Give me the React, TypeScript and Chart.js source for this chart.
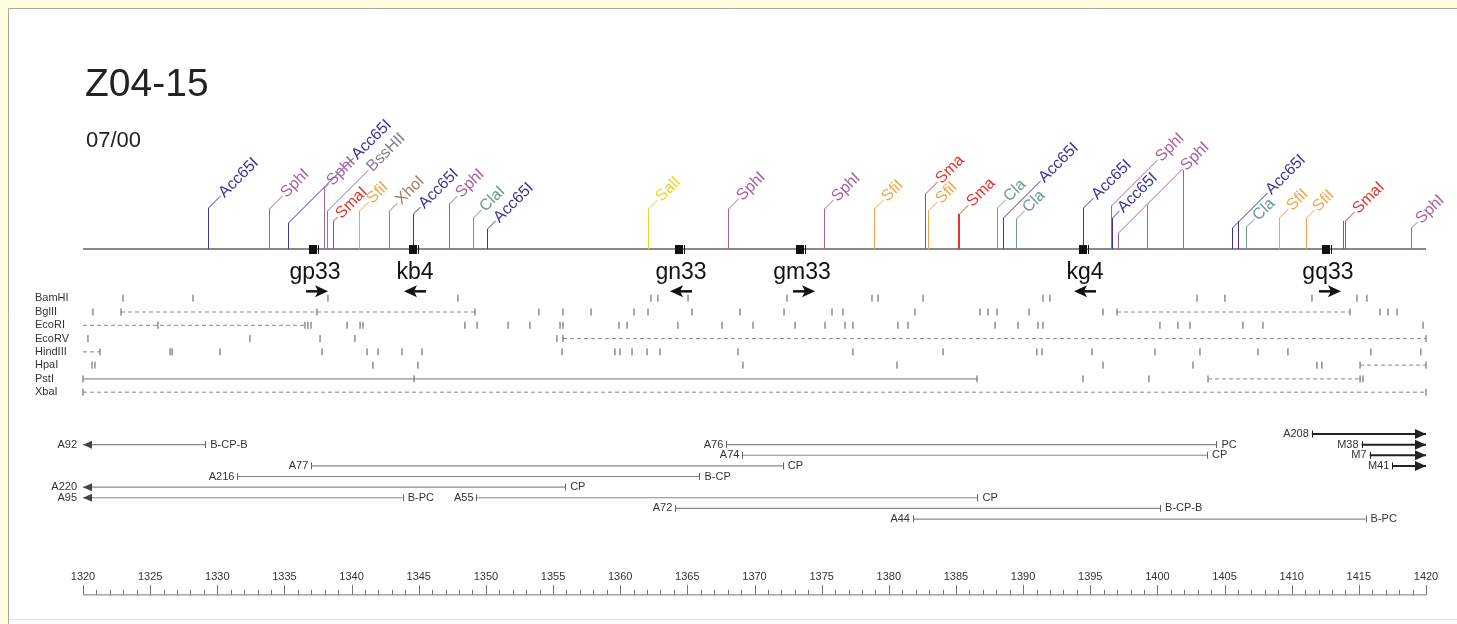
import React, { useEffect, useRef } from 'react';
import { Chart, registerables } from 'chart.js';

Chart.register(...registerables);

const FONT = '"Liberation Sans", Arial, Helvetica, sans-serif';
const W = 1457;
const H = 624;

// ---------- data ----------
const X_MIN = 1320;
const X_MAX = 1420;
const RULER_LABELS = ['1320', '1325', '1330', '1335', '1340', '1345', '1350', '1355', '1360', '1365', '1370', '1375', '1380', '1385', '1390', '1395', '1400', '1405', '1410', '1415', '1420'];

const TITLE = 'Z04-15';
const SUBTITLE = '07/00';

// restriction sites above the backbone
const SITE_POS = [1329.29, 1333.85, 1335.24, 1337.94, 1338.15, 1338.59, 1340.55, 1342.78, 1344.57, 1347.25, 1349.04, 1350.08, 1362.07, 1368.03, 1375.17, 1378.9, 1382.7, 1382.92, 1385.13, 1385.25, 1388.03, 1388.48, 1389.47, 1394.44, 1396.55, 1396.6, 1397.07, 1399.23, 1401.9, 1405.53, 1406.0, 1406.6, 1409.06, 1411.04, 1413.8, 1413.96, 1418.88];
const SITE_ENZ = ['Acc65I', 'SphI', 'Acc65I', 'SphI', 'BssHII', 'SmaI', 'SfiI', 'XhoI', 'Acc65I', 'SphI', 'ClaI', 'Acc65I', 'SalI', 'SphI', 'SphI', 'SfiI', 'SmaI', 'SfiI', 'SmaI', 'SmaI', 'ClaI', 'Acc65I', 'ClaI', 'Acc65I', 'SphI', 'Acc65I', 'SphI', 'SphI', 'SphI', 'Acc65I', 'Acc65I', 'ClaI', 'SfiI', 'SfiI', 'SmaI', 'SmaI', 'SphI'];
const SITE_LABEL = ['Acc65I', 'SphI', 'Acc65I', 'SphI', 'BssHII', 'SmaI', 'SfiI', 'XhoI', 'Acc65I', 'SphI', 'ClaI', 'Acc65I', 'SalI', 'SphI', 'SphI', 'SfiI', 'Sma', 'SfiI', '', 'Sma', 'Cla', 'Acc65I', 'Cla', 'Acc65I', 'SphI', 'Acc65I', 'SphI', '', '', 'Acc65I', '', 'Cla', 'SfiI', 'SfiI', '', 'SmaI', 'SphI'];

// genes / markers on the backbone
const GENE_NAMES = ['gp33', 'kb4', 'gn33', 'gm33', 'kg4', 'gq33'];
const GENE_POS = [1337.13, 1344.57, 1364.38, 1373.39, 1394.46, 1412.55];
const GENE_DIR = [1, -1, -1, 1, -1, 1];

// restriction map rows
const MAP_ENZYMES = ['BamHI', 'BglII', 'EcoRI', 'EcoRV', 'HindIII', 'HpaI', 'PstI', 'XbaI'];
const BAMHI_SITES = [1322.98, 1328.19, 1338.24, 1347.92, 1362.29, 1362.81, 1365.05, 1372.42, 1378.75, 1379.2, 1382.55, 1391.48, 1392.0, 1402.95, 1405.03, 1411.51, 1414.86, 1415.6];
const BGLII_SITES = [1320.74, 1322.83, 1337.42, 1349.19, 1353.95, 1355.74, 1357.83, 1361.03, 1362.07, 1365.35, 1368.92, 1372.2, 1375.77, 1376.59, 1381.95, 1386.79, 1387.39, 1388.06, 1390.44, 1395.95, 1396.99, 1414.34, 1416.57, 1417.17, 1417.84];
const ECORI_SITES = [1325.58, 1336.53, 1336.75, 1336.98, 1339.66, 1340.63, 1340.85, 1348.44, 1349.34, 1351.65, 1353.28, 1355.52, 1355.74, 1359.91, 1360.51, 1364.3, 1367.58, 1369.89, 1373.02, 1375.25, 1376.74, 1377.33, 1380.68, 1381.43, 1387.91, 1389.62, 1391.11, 1391.48, 1400.19, 1401.53, 1402.43, 1406.37, 1407.86, 1419.78];
const ECORV_SITES = [1320.37, 1332.43, 1337.65, 1340.25, 1355.29, 1355.74, 1420];
const HINDIII_SITES = [1321.27, 1326.48, 1326.63, 1330.2, 1337.8, 1341.15, 1341.97, 1343.75, 1345.24, 1355.67, 1359.61, 1359.99, 1360.88, 1362.0, 1362.96, 1368.77, 1377.33, 1384.04, 1391.03, 1391.41, 1395.13, 1399.82, 1403.17, 1407.49, 1409.72, 1415.9, 1419.62];
const HPAI_SITES = [1320.67, 1320.89, 1341.59, 1344.94, 1369.14, 1380.61, 1395.95, 1402.65, 1411.88, 1412.25, 1415.09, 1420];
const PSTI_SITES = [1320, 1344.65, 1386.57, 1394.46, 1399.37, 1403.77, 1415.09, 1415.31];
const XBAI_SITES = [1320, 1420];
const MAP_SITES = [BAMHI_SITES, BGLII_SITES, ECORI_SITES, ECORV_SITES, HINDIII_SITES, HPAI_SITES, PSTI_SITES, XBAI_SITES];

const BGLII_DASHED = [[1322.83, 1349.19], [1396.99, 1414.34]];
const ECORI_DASHED = [[1320, 1336.68]];
const ECORV_DASHED = [[1355.74, 1420]];
const HINDIII_DASHED = [[1320, 1321.27]];
const HPAI_DASHED = [[1415.09, 1420]];
const PSTI_DASHED = [[1403.77, 1415.09]];
const XBAI_DASHED = [[1320, 1420]];
const MAP_DASHED = [[], BGLII_DASHED, ECORI_DASHED, ECORV_DASHED, HINDIII_DASHED, HPAI_DASHED, PSTI_DASHED, XBAI_DASHED];
const PSTI_SOLID = [[1320, 1386.57]];
const MAP_SOLID = [[], [], [], [], [], [], PSTI_SOLID, []];

// clones
const CLONE_NAMES = ['A208', 'A92', 'A76', 'M38', 'A74', 'M7', 'A77', 'M41', 'A216', 'A220', 'A95', 'A55', 'A72', 'A44'];
const CLONE_START = [1411.5, 1320, 1367.9, 1415.2, 1369.1, 1415.8, 1337.0, 1417.5, 1331.5, 1320, 1320, 1349.3, 1364.1, 1381.8];
const CLONE_END = [1420, 1329.1, 1404.4, 1420, 1403.7, 1420, 1372.1, 1420, 1365.9, 1355.9, 1343.8, 1386.6, 1400.2, 1415.5];
const CLONE_END_LABEL = ['', 'B-CP-B', 'PC', '', 'CP', '', 'CP', '', 'B-CP', 'CP', 'B-PC', 'CP', 'B-CP-B', 'B-PC'];
const CLONE_OPEN_LEFT = [false, true, false, false, false, false, false, false, false, true, true, false, false, false];
const CLONE_OPEN_RIGHT = [true, false, false, true, false, true, false, true, false, false, false, false, false, false];

// ---------- layout & style ----------
const CLONE_ROW = [0, 1, 1, 1, 2, 2, 3, 3, 4, 5, 6, 6, 7, 8];
const CLONE_Y0 = 436;
const CLONE_DY = 10.8;
const BACKBONE_Y = 248;
const GENE_LABEL_Y = 278;
const GENE_ARROW_Y = 291;
const MAP_ROW_Y = [298, 312, 325.5, 339, 352.5, 366, 380, 393.5];
const RULER_Y = 599;
const SITE_STEM = [41, 40, 26, 61, 38, 28, 38, 38, 35, 45, 31, 20, 40, 40, 40, 40, 55, 38, 35, 35, 41, 31, 30, 41, 43, 31, 16, 44, 79, 21, 28, 22, 31, 31, 28, 28, 21];
const SITE_LEAD = [12, 13, 65, 4, 41, 4, 9, 8, 7, 8, 8, 8, 9, 10, 9, 9, 12, 9, 0, 9, 8, 37, 8, 10, 46, 7, 64, 0, 0, 35, 0, 8, 9, 8, 0, 9, 6];
const ENZ_COLOR: Record<string, string> = {
  Acc65I: '#3f3596',
  SphI: '#a8609a',
  BssHII: '#867a94',
  SmaI: '#e3362f',
  SfiI: '#f0a54a',
  XhoI: '#a67a5c',
  ClaI: '#6e9a88',
  SalI: '#ecd42a',
};

function segData(segs: number[][], y: number) {
  const out: { x: number; y: number | null }[] = [];
  segs.forEach(([a, b]) => {
    out.push({ x: a, y }, { x: b, y }, { x: b, y: null });
  });
  return out;
}

const mapPlugin = {
  id: 'genomeMap',
  beforeDraw(chart: any) {
    const ctx = chart.ctx as CanvasRenderingContext2D;
    ctx.save();
    ctx.fillStyle = '#ffffde';
    ctx.fillRect(0, 0, W, H);
    ctx.fillStyle = '#ffffff';
    ctx.fillRect(9, 9, W - 9, H - 9);
    ctx.strokeStyle = '#a8a89a';
    ctx.lineWidth = 1;
    ctx.beginPath();
    ctx.moveTo(8.5, H);
    ctx.lineTo(8.5, 8.5);
    ctx.lineTo(W, 8.5);
    ctx.stroke();
    ctx.strokeStyle = '#e2e2dc';
    ctx.beginPath();
    ctx.moveTo(9, 619.5);
    ctx.lineTo(W, 619.5);
    ctx.stroke();
    ctx.restore();
  },
  afterDatasetsDraw(chart: any) {
    const ctx = chart.ctx as CanvasRenderingContext2D;
    const xs = chart.scales.x;
    const ys = chart.scales.y;
    const X = (v: number) => xs.getPixelForValue(v);
    const Y = (v: number) => ys.getPixelForValue(v);
    ctx.save();

    // title
    ctx.fillStyle = '#222';
    ctx.textAlign = 'left';
    ctx.textBaseline = 'alphabetic';
    ctx.font = `39px ${FONT}`;
    ctx.fillText(TITLE, 85, 96);
    ctx.font = `22px ${FONT}`;
    ctx.fillText(SUBTITLE, 86, 147);

    // restriction sites with leaders and rotated labels
    const by = Y(BACKBONE_Y);
    SITE_POS.forEach((p, i) => {
      const x = Math.round(X(p)) + 0.5;
      const col = ENZ_COLOR[SITE_ENZ[i]];
      const top = by - SITE_STEM[i];
      const lead = SITE_LEAD[i];
      ctx.strokeStyle = col;
      ctx.lineWidth = 1;
      ctx.beginPath();
      ctx.moveTo(x, by);
      ctx.lineTo(x, top);
      if (lead > 0) ctx.lineTo(x + lead, top - lead);
      ctx.stroke();
      if (SITE_LABEL[i]) {
        ctx.save();
        ctx.translate(x + lead + 1, top - lead - 1);
        ctx.rotate(-Math.PI / 4);
        ctx.fillStyle = col;
        ctx.font = `16px ${FONT}`;
        ctx.textAlign = 'left';
        ctx.textBaseline = 'middle';
        ctx.fillText(SITE_LABEL[i], 0, 0);
        ctx.restore();
      }
    });

    // gene markers, names and direction arrows
    GENE_POS.forEach((p, i) => {
      const x = X(p);
      ctx.fillStyle = '#111';
      ctx.fillRect(Math.round(x) - 4, by - 4, 8, 9);
      ctx.strokeStyle = '#111';
      ctx.lineWidth = 1;
      ctx.beginPath();
      ctx.moveTo(Math.round(x) + 5.5, by - 4);
      ctx.lineTo(Math.round(x) + 5.5, by + 5);
      ctx.stroke();
      ctx.font = `23px ${FONT}`;
      ctx.textAlign = 'center';
      ctx.textBaseline = 'alphabetic';
      ctx.fillText(GENE_NAMES[i], x + 2, Y(GENE_LABEL_Y));
      const ay = Y(GENE_ARROW_Y);
      const d = GENE_DIR[i];
      const cx = x + 3;
      ctx.lineWidth = 2.5;
      ctx.beginPath();
      ctx.moveTo(cx - d * 10, ay);
      ctx.lineTo(cx + d * 2, ay);
      ctx.stroke();
      ctx.beginPath();
      ctx.moveTo(cx + d * 12, ay);
      ctx.lineTo(cx - d * 1, ay - 6);
      ctx.lineTo(cx + d * 2, ay);
      ctx.lineTo(cx - d * 1, ay + 6);
      ctx.closePath();
      ctx.fill();
    });

    // restriction map row labels
    ctx.fillStyle = '#333';
    ctx.font = `11px ${FONT}`;
    ctx.textAlign = 'left';
    ctx.textBaseline = 'middle';
    MAP_ENZYMES.forEach((n, i) => ctx.fillText(n, 35, Y(MAP_ROW_Y[i])));

    // clone ends, arrowheads and labels
    CLONE_NAMES.forEach((n, i) => {
      const y = Y(CLONE_Y0 + CLONE_ROW[i] * CLONE_DY);
      const xs0 = X(CLONE_START[i]);
      const xe = X(CLONE_END[i]);
      const bold = CLONE_OPEN_RIGHT[i];
      ctx.strokeStyle = bold ? '#222' : '#666';
      ctx.fillStyle = bold ? '#222' : '#444';
      ctx.lineWidth = 1;
      if (CLONE_OPEN_LEFT[i]) {
        ctx.beginPath();
        ctx.moveTo(xs0, y);
        ctx.lineTo(xs0 + 9, y - 4);
        ctx.lineTo(xs0 + 9, y + 4);
        ctx.closePath();
        ctx.fill();
      } else {
        ctx.beginPath();
        ctx.moveTo(Math.round(xs0) + 0.5, y - 3.5);
        ctx.lineTo(Math.round(xs0) + 0.5, y + 3.5);
        ctx.stroke();
      }
      if (bold) {
        ctx.beginPath();
        ctx.moveTo(xe, y);
        ctx.lineTo(xe - 11, y - 5);
        ctx.lineTo(xe - 11, y + 5);
        ctx.closePath();
        ctx.fill();
      } else {
        ctx.beginPath();
        ctx.moveTo(Math.round(xe) + 0.5, y - 3.5);
        ctx.lineTo(Math.round(xe) + 0.5, y + 3.5);
        ctx.stroke();
      }
      ctx.fillStyle = '#333';
      ctx.font = `11px ${FONT}`;
      ctx.textBaseline = 'middle';
      ctx.textAlign = 'right';
      ctx.fillText(n, xs0 - (CLONE_OPEN_LEFT[i] ? 6 : 3), y);
      if (CLONE_END_LABEL[i]) {
        ctx.textAlign = 'left';
        ctx.fillText(CLONE_END_LABEL[i], xe + 5, y);
      }
    });

    // ruler
    const ry = Y(RULER_Y) + 0.5;
    ctx.strokeStyle = '#777';
    ctx.lineWidth = 1;
    ctx.beginPath();
    ctx.moveTo(X(X_MIN), ry);
    ctx.lineTo(X(X_MAX), ry);
    for (let v = X_MIN; v <= X_MAX; v++) {
      const tx = Math.round(X(v)) + 0.5;
      const major = (v - X_MIN) % 5 === 0;
      ctx.moveTo(tx, ry);
      ctx.lineTo(tx, ry - (major ? 10 : 5));
    }
    ctx.stroke();
    ctx.fillStyle = '#333';
    ctx.font = `11px ${FONT}`;
    ctx.textAlign = 'center';
    ctx.textBaseline = 'alphabetic';
    RULER_LABELS.forEach((l) => ctx.fillText(l, X(parseFloat(l)), ry - 15));

    ctx.restore();
  },
};

export default function App() {
  const ref = useRef<HTMLCanvasElement>(null);
  useEffect(() => {
    const datasets: any[] = [];
    datasets.push({
      type: 'scatter',
      showLine: true,
      data: [{ x: X_MIN, y: BACKBONE_Y }, { x: X_MAX, y: BACKBONE_Y }],
      borderColor: '#8a8a8a',
      borderWidth: 2,
      pointRadius: 0,
      clip: false,
    });
    MAP_ENZYMES.forEach((_, i) => {
      const y = MAP_ROW_Y[i];
      if (MAP_SOLID[i].length) {
        datasets.push({
          type: 'scatter', showLine: true, spanGaps: false,
          data: segData(MAP_SOLID[i], y), borderColor: '#777', borderWidth: 1, pointRadius: 0, clip: false,
        });
      }
      if (MAP_DASHED[i].length) {
        datasets.push({
          type: 'scatter', showLine: true, spanGaps: false,
          data: segData(MAP_DASHED[i], y), borderColor: '#888', borderWidth: 1, borderDash: [4, 3], pointRadius: 0, clip: false,
        });
      }
      datasets.push({
        type: 'scatter', showLine: false,
        data: MAP_SITES[i].map((x) => ({ x, y })),
        pointStyle: 'line', rotation: 90, pointRadius: 3.5,
        pointBorderColor: '#555', pointBackgroundColor: '#555', pointBorderWidth: 1, clip: false,
      });
    });
    CLONE_NAMES.forEach((_, i) => {
      const y = CLONE_Y0 + CLONE_ROW[i] * CLONE_DY;
      const bold = CLONE_OPEN_RIGHT[i];
      datasets.push({
        type: 'scatter', showLine: true,
        data: [{ x: CLONE_START[i], y }, { x: CLONE_END[i], y }],
        borderColor: bold ? '#222' : '#888', borderWidth: bold ? 2 : 1.2, pointRadius: 0, clip: false,
      });
    });

    const chart = new Chart(ref.current as HTMLCanvasElement, {
      type: 'scatter',
      data: { datasets },
      options: {
        responsive: false,
        animation: false,
        events: [],
        layout: { padding: { left: 83, right: W - 1426, top: 0, bottom: 0 } },
        plugins: { legend: { display: false }, tooltip: { enabled: false } },
        scales: {
          x: { type: 'linear', min: X_MIN, max: X_MAX, display: false },
          y: { type: 'linear', min: 0, max: H, reverse: true, display: false },
        },
      },
      plugins: [mapPlugin],
    } as any);
    return () => chart.destroy();
  }, []);
  return (
    <div style={{ position: 'absolute', left: 0, top: 0, width: W, height: H }}>
      <canvas ref={ref} width={W} height={H} style={{ display: 'block' }} />
    </div>
  );
}
